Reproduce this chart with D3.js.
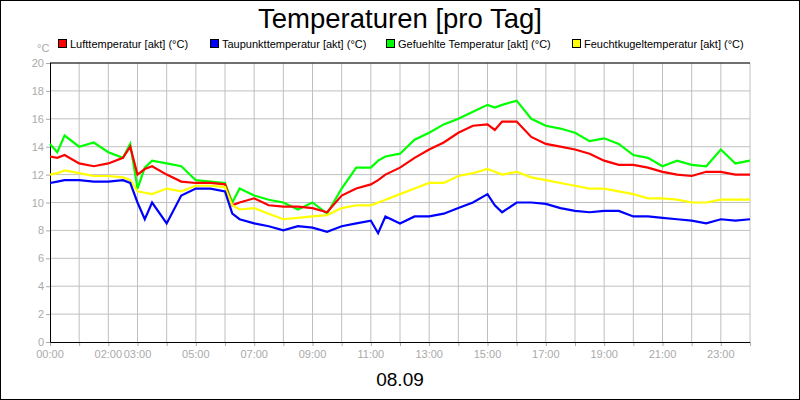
<!DOCTYPE html><html><head><meta charset="utf-8"><script src="https://cdn.jsdelivr.net/npm/d3@7"></script>
<style>body{margin:0;background:#fff}svg{display:block;font-family:"Liberation Sans",Arial,sans-serif}</style></head><body><svg id="c" width="800" height="400"></svg>
<script>
const hours=[0,0.25,0.5,1,1.5,2,2.5,2.75,3,3.25,3.5,4,4.5,5,5.5,6,6.25,6.5,7,7.5,8,8.5,9,9.5,10,10.5,11,11.25,11.5,12,12.5,13,13.5,14,14.5,15,15.25,15.5,16,16.5,17,17.5,18,18.5,19,19.5,20,20.5,21,21.5,22,22.5,23,23.5,24];
const luft=[13.3,13.2,13.4,12.8,12.6,12.8,13.2,14.0,12.0,12.4,12.6,12.0,11.5,11.4,11.4,11.3,9.8,10.0,10.3,9.8,9.7,9.7,9.6,9.3,10.5,11.0,11.3,11.6,12.0,12.5,13.2,13.8,14.3,15.0,15.5,15.6,15.2,15.8,15.8,14.7,14.2,14.0,13.8,13.5,13.0,12.7,12.7,12.5,12.2,12.0,11.9,12.2,12.2,12.0,12.0];
const taupunkt=[11.4,11.5,11.6,11.6,11.5,11.5,11.6,11.4,10.0,8.8,10.0,8.5,10.5,11.0,11.0,10.8,9.2,8.8,8.5,8.3,8.0,8.3,8.2,7.9,8.3,8.5,8.7,7.8,9.0,8.5,9.0,9.0,9.2,9.6,10.0,10.6,9.8,9.3,10.0,10.0,9.9,9.6,9.4,9.3,9.4,9.4,9.0,9.0,8.9,8.8,8.7,8.5,8.8,8.7,8.8];
const gefuehlt=[14.2,13.6,14.8,14.0,14.3,13.6,13.2,14.2,11.0,12.5,13.0,12.8,12.6,11.6,11.5,11.4,10.0,11.0,10.5,10.2,10.0,9.5,10.0,9.2,11.0,12.5,12.5,13.0,13.3,13.5,14.5,15.0,15.6,16.0,16.5,17.0,16.8,17.0,17.3,16.0,15.5,15.3,15.0,14.4,14.6,14.2,13.4,13.2,12.6,13.0,12.7,12.6,13.8,12.8,13.0];
const feucht=[12.0,12.1,12.3,12.1,11.9,11.9,11.8,11.6,10.8,10.7,10.6,11.0,10.8,11.2,11.2,11.1,9.8,9.5,9.6,9.2,8.8,8.9,9.0,9.1,9.6,9.8,9.8,10.0,10.2,10.6,11.0,11.4,11.4,11.9,12.1,12.4,12.2,12.0,12.2,11.8,11.6,11.4,11.2,11.0,11.0,10.8,10.6,10.3,10.3,10.2,10.0,10.0,10.2,10.2,10.2];
const yTicks=[0,2,4,6,8,10,12,14,16,18,20];
const xLabels=[[0,"00:00"],[2,"02:00"],[3,"03:00"],[5,"05:00"],[7,"07:00"],[9,"09:00"],[11,"11:00"],[13,"13:00"],[15,"15:00"],[17,"17:00"],[19,"19:00"],[21,"21:00"],[23,"23:00"]];
const series=[["Lufttemperatur [akt] (°C)",luft,"#ff0000"],["Taupunkttemperatur [akt] (°C)",taupunkt,"#0000ff"],["Gefuehlte Temperatur [akt] (°C)",gefuehlt,"#00ff00"],["Feuchtkugeltemperatur [akt] (°C)",feucht,"#ffff00"]];
const svg=d3.select("#c");
svg.append("rect").attr("x",0.5).attr("y",0.5).attr("width",799).attr("height",399).attr("fill","#fff").attr("stroke","#000");
const x=d3.scaleLinear().domain([0,24]).range([50,750]);
const y=d3.scaleLinear().domain([0,20]).range([342,63]);
const g=svg.append("g");
d3.range(1,25).forEach(h=>g.append("line").attr("x1",x(h)).attr("x2",x(h)).attr("y1",63).attr("y2",342).attr("stroke","#c0c0c0"));
yTicks.slice(1).forEach(t=>g.append("line").attr("x1",50).attr("x2",750).attr("y1",y(t)).attr("y2",y(t)).attr("stroke","#c0c0c0"));
const ya=svg.append("g").attr("transform","translate(50,0)").call(d3.axisLeft(y).tickValues(yTicks).tickSize(4).tickPadding(2));
ya.select(".domain").remove();ya.selectAll("line").attr("stroke","#aaa");ya.selectAll("text").attr("fill","#aaa").style("font-size","11px");
const xa=svg.append("g").attr("transform","translate(0,342)").call(d3.axisBottom(x).tickValues(d3.range(0,25)).tickSize(4).tickFormat(""));
xa.select(".domain").remove();xa.selectAll("line").attr("stroke","#aaa");
xLabels.forEach(([h,l])=>svg.append("text").attr("x",x(h)).attr("y",358).attr("text-anchor","middle").attr("fill","#aaa").style("font-size","11px").text(l));
svg.append("path").attr("d",`M50,63H750`).attr("stroke","#000").attr("fill","none");
svg.append("path").attr("d",`M50.5,63V342.5H750`).attr("stroke","#000").attr("fill","none");
const line=d3.line().x((d,i)=>x(hours[i])).y(d=>y(d));
[gefuehlt,luft,feucht,taupunkt].forEach(s=>{const c=series.find(z=>z[1]===s)[2];svg.append("path").attr("d",line(s)).attr("fill","none").attr("stroke",c).attr("stroke-width",2.2);});
svg.append("text").attr("x",400).attr("y",28).attr("text-anchor","middle").style("font-size","27.5px").text("Temperaturen [pro Tag]");
svg.append("text").attr("x",400).attr("y",386).attr("text-anchor","middle").style("font-size","19px").text("08.09");
svg.append("text").attr("x",37).attr("y",52).attr("fill","#aaa").style("font-size","11px").text("°C");
const lx=[58,210,386,572];
series.forEach((s,i)=>{svg.append("rect").attr("x",lx[i]+0.5).attr("y",39.5).attr("width",8).attr("height",8).attr("fill",s[2]).attr("stroke","#000");
svg.append("text").attr("x",lx[i]+12).attr("y",48).style("font-size","11px").text(s[0]);});
</script></body></html>
